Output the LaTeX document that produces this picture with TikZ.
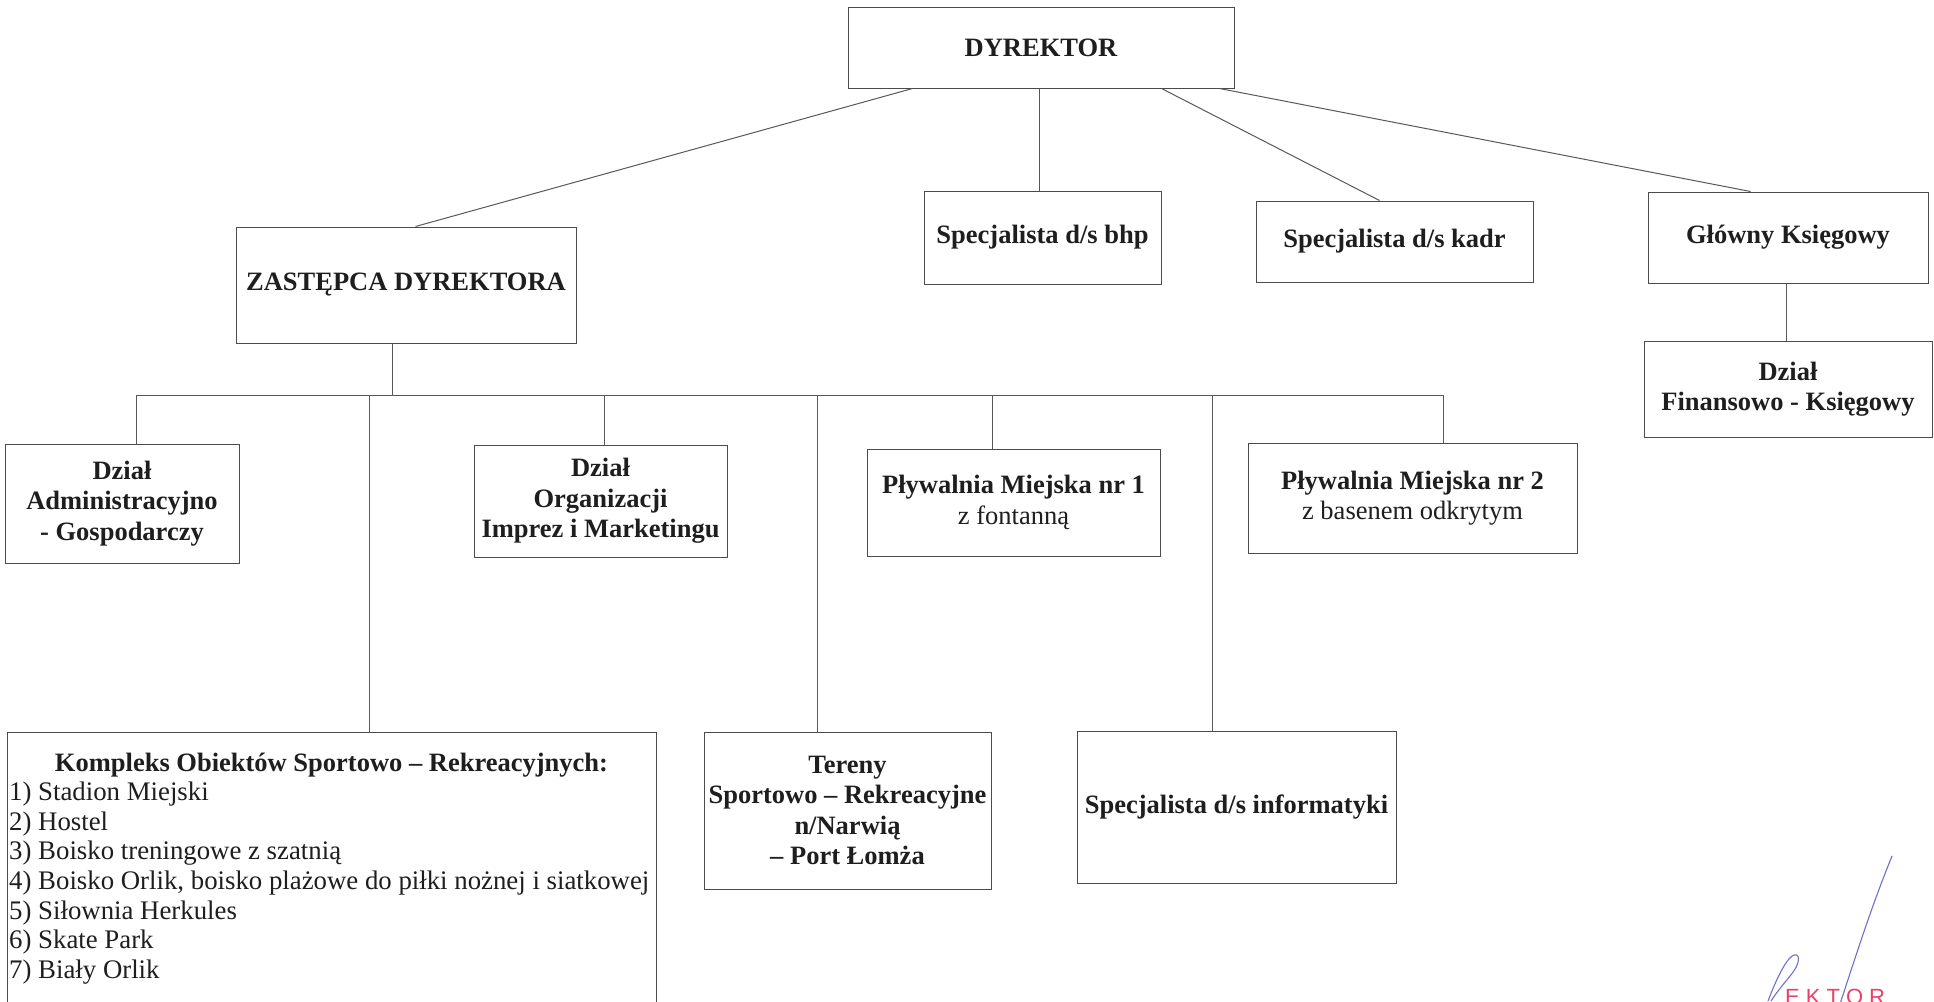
\documentclass[tikz,border=0pt]{standalone}
\usepackage{fontspec}
\setmainfont{Liberation Serif}
\newfontfamily\stampfont{Liberation Sans}
\usetikzlibrary{calc}
\definecolor{stampred}{RGB}{236,64,104}
\definecolor{sigblue}{RGB}{112,112,205}
\definecolor{inkc}{RGB}{30,30,30}
\begin{document}
\begin{tikzpicture}[x=1pt,y=-1pt,
  box/.style={draw=black!70, line width=1pt, rectangle, inner sep=0pt, align=center,
              text=inkc, font=\fontsize{26.5}{30.5}\selectfont},
  boxb/.style={box, font=\fontsize{26.5}{30.5}\selectfont\bfseries},
  txt/.style={inner sep=0pt, text=inkc, font=\fontsize{26.8}{30.5}\selectfont},
  conn/.style={draw=black!65, line width=1pt},
  sig/.style={draw=sigblue, line width=1.1pt, line cap=round}
]
\fill[white] (0,0) rectangle (1934,1001);
\useasboundingbox (0,0) rectangle (1934,1001);
\clip (0,0) rectangle (1934,1001);

% top level
\node[boxb, minimum width=386pt, minimum height=81pt] (dyr) at (1041,47.5) {DYREKTOR};
\node[boxb, minimum width=340pt, minimum height=116pt] (zast) at (406,285) {ZASTĘPCA DYREKTORA};
\node[boxb, minimum width=237pt, minimum height=93pt] (bhp) at (1042.5,237.5) {Specjalista d/s bhp};
\node[boxb, minimum width=277pt, minimum height=81pt] (kadr) at (1394.5,241.5) {Specjalista d/s kadr};
\node[boxb, minimum width=280pt, minimum height=91pt] (glow) at (1788,237.5) {Główny Księgowy};
\node[boxb, minimum width=288pt, minimum height=96pt] (fin) at (1788,389) {Dział\\Finansowo - Księgowy};

% second level
\node[boxb, minimum width=234pt, minimum height=119pt] (admin) at (122,503.5) {Dział\\Administracyjno\\- Gospodarczy};
\node[boxb, minimum width=253pt, minimum height=112pt] (org) at (600.5,501) {Dział\\Organizacji\\Imprez i Marketingu};
\node[box, minimum width=293pt, minimum height=107pt] (p1) at (1013.5,502.5) {\textbf{Pływalnia Miejska nr 1}\\z fontanną};
\node[box, minimum width=329pt, minimum height=110pt] (p2) at (1412.5,498) {\textbf{Pływalnia Miejska nr 2}\\z basenem odkrytym};

\node[box, minimum width=649pt, minimum height=298pt] (komp) at (331.5,881) {};
\node[boxb, minimum width=287pt, minimum height=157pt] (ter) at (847.5,810.5) {Tereny\\Sportowo – Rekreacyjne\\n/Narwią\\– Port Łomża};
\node[boxb, minimum width=319pt, minimum height=152pt] (inf) at (1236.5,807) {Specjalista d/s informatyki};

% list inside Kompleks box
\node[txt, font=\fontsize{26.5}{30.5}\selectfont\bfseries, anchor=base] (kt) at (331.5,771) {Kompleks Obiektów Sportowo – Rekreacyjnych:};
\node[txt, anchor=base west] (k1) at (9,800.6) {1) Stadion Miejski};
\node[txt, anchor=base west] (k2) at (9,830.2) {2) Hostel};
\node[txt, anchor=base west] (k3) at (9,859.8) {3) Boisko treningowe z szatnią};
\node[txt, anchor=base west] (k4) at (9,889.4) {4) Boisko Orlik, boisko plażowe do piłki nożnej i siatkowej};
\node[txt, anchor=base west] (k5) at (9,919) {5) Siłownia Herkules};
\node[txt, anchor=base west] (k6) at (9,948.6) {6) Skate Park};
\node[txt, anchor=base west] (k7) at (9,978.2) {7) Biały Orlik};

% connectors from DYREKTOR
\draw[conn] ($(dyr.south west)+(65,0)$) -- ($(zast.north west)+(180,0)$);
\draw[conn] ($(dyr.south west)+(192,0)$) -- ($(bhp.north west)+(116,0)$);
\draw[conn] ($(dyr.south west)+(314,0)$) -- ($(kadr.north west)+(124,0)$);
\draw[conn] ($(dyr.south west)+(372,0)$) -- ($(glow.north west)+(103,0)$);
\draw[conn] ($(glow.south west)+(139,0)$) -- ($(fin.north west)+(143,0)$);

% bus below ZASTĘPCA
\coordinate (bus) at (0,395);
\coordinate (tZ) at ($(zast.south west)+(157,0)$);
\coordinate (tAdmin) at ($(admin.north west)+(132,0)$);
\coordinate (tKomp) at ($(komp.north west)+(363,0)$);
\coordinate (tOrg) at ($(org.north west)+(131,0)$);
\coordinate (tTer) at ($(ter.north west)+(114,0)$);
\coordinate (tP1) at ($(p1.north west)+(126,0)$);
\coordinate (tInf) at ($(inf.north west)+(136,0)$);
\coordinate (tP2) at ($(p2.north west)+(196,0)$);

\draw[conn] (tZ) -- (tZ |- bus);
\draw[conn] (tAdmin |- bus) -- (tP2 |- bus);
\foreach \t in {tAdmin,tKomp,tOrg,tTer,tP1,tInf,tP2}{
  \draw[conn] (\t |- bus) -- (\t);
}

% stamp and signature
\node[inner sep=0pt, anchor=base west, text=stampred, font=\stampfont\fontsize{22}{22}\selectfont] (stamp) at (1785,1004)
  {E\hspace{6pt}K\hspace{6pt}T\hspace{6pt}O\hspace{6pt}R};
\draw[sig] (1892,856) .. controls (1872,905) and (1856,955) .. (1840,1004);
\draw[sig] (1768,1001) .. controls (1774,985) and (1784,962) .. (1792,956)
  .. controls (1800,951) and (1802,962) .. (1790,976)
  .. controls (1782,986) and (1776,993) .. (1771,1001);
\end{tikzpicture}
\end{document}
